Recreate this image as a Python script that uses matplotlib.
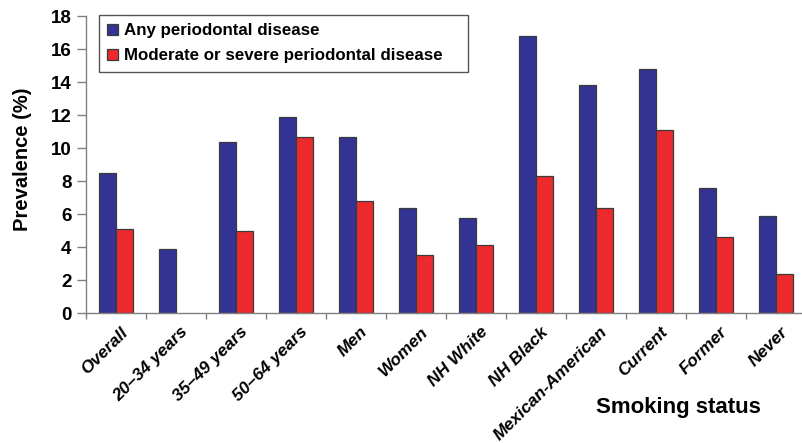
import matplotlib
matplotlib.use("Agg")
import matplotlib.pyplot as plt
import matplotlib.transforms as mtransforms
import numpy as np

plt.rcParams['font.family'] = ['Liberation Sans', 'DejaVu Sans']

categories = ["Overall", "20\u201334 years", "35\u201349 years", "50\u201364 years", "Men", "Women",
              "NH White", "NH Black", "Mexican-American", "Current", "Former", "Never"]
any_pd = [8.5, 3.9, 10.4, 11.9, 10.7, 6.4, 5.8, 16.8, 13.8, 14.8, 7.6, 5.9]
mod_severe_pd = [5.1, np.nan, 5.0, 10.7, 6.8, 3.5, 4.15, 8.3, 6.4, 11.1, 4.6, 2.35]

blue = "#333394"
red = "#ec2a2e"
edge = "#3a3a3a"
axis_grey = "#808080"

W, H = 803, 443
fig = plt.figure(figsize=(W / 100, H / 100), dpi=100)
ax = fig.add_axes([86 / W, 129.7 / H, 720 / W, 297.3 / H])

x = np.arange(len(categories))
bw = 0.285
ax.bar(x - bw / 2, any_pd, bw, color=blue, edgecolor=edge, linewidth=0.9,
       label="Any periodontal disease")
ax.bar(x + bw / 2, mod_severe_pd, bw, color=red, edgecolor=edge, linewidth=0.9,
       label="Moderate or severe periodontal disease")

ax.set_xlim(-0.5, len(categories) - 0.5)
ax.set_ylim(0, 18)
ax.set_yticks(range(0, 19, 2))
ax.tick_params(axis='y', labelsize=13.5, length=6.5, width=1, color=axis_grey, pad=4)
for t in ax.get_yticklabels():
    t.set_fontweight('bold')

# category labels at centres, tick marks at the boundaries
ax.set_xticks(x)
ax.set_xticklabels(categories, rotation=45, ha='right', va='top', rotation_mode='anchor',
                   fontsize=12.5, fontweight='bold', fontstyle='italic')
ax.tick_params(axis='x', which='major', length=0, pad=8)
ax.set_xticks(np.arange(-0.5, len(categories), 1.0), minor=True)
ax.tick_params(axis='x', which='minor', length=4, width=1, color=axis_grey)
shift = mtransforms.ScaledTranslation(4 / 100, 0, fig.dpi_scale_trans)
for t in ax.get_xticklabels():
    t.set_transform(t.get_transform() + shift)

for side in ['top', 'right']:
    ax.spines[side].set_visible(False)
for side in ['left', 'bottom']:
    ax.spines[side].set_color(axis_grey)
    ax.spines[side].set_linewidth(1)

fig.text(23 / W, 1 - 159 / H, "Prevalence (%)", rotation=90, ha='center', va='center',
         fontsize=14.5, fontweight='bold')
fig.text(678 / W, 1 - 408 / H, "Smoking status", ha='center', va='center',
         fontsize=16, fontweight='bold')

leg = ax.legend(loc='upper left', mode='expand',
                bbox_to_anchor=(98.7 / W, 1 - 68 / H, 369 / W, 53.3 / H),
                bbox_transform=fig.transFigure, borderaxespad=0, fancybox=False,
                framealpha=1, edgecolor="#555555", prop={'size': 12.2, 'weight': 'bold'},
                handlelength=0.65, handleheight=0.65, handletextpad=0.35,
                borderpad=0.5, labelspacing=0.6)
leg.get_frame().set_linewidth(1)

fig.savefig("out.png", dpi=100)
